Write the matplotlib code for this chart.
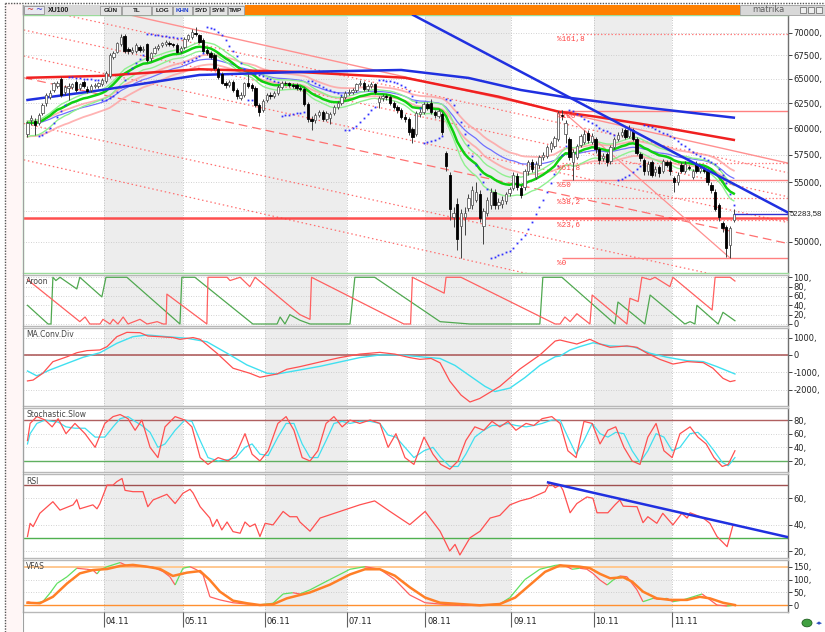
import numpy as np
import pandas as pd
import matplotlib
matplotlib.use('Agg')
import matplotlib.pyplot as plt
from matplotlib.patches import Rectangle, Circle
from matplotlib.collections import LineCollection
from matplotlib.ticker import NullLocator

plt.rcParams['font.family'] = 'DejaVu Sans'

# XU100 daily bars (prices in hundreds of index points)
dates = pd.bdate_range('2011-03-03', periods=190)
opens = [595, 608, 607, 605, 615, 625, 631, 638, 642, 650,
         636, 640, 641, 647, 640, 647, 639, 638, 642, 642,
         644, 648, 653, 673, 679, 687, 696, 682, 679, 680,
         684, 681, 687, 672, 678, 683, 686, 687, 689, 687,
         686, 680, 684, 693, 695, 700, 697, 692, 681, 678,
         675, 660, 655, 646, 643, 647, 638, 630, 633, 646,
         643, 640, 623, 618, 628, 633, 632, 635, 641, 646,
         645, 643, 643, 640, 639, 624, 609, 608, 613, 616,
         609, 610, 615, 621, 625, 631, 635, 636, 638, 644,
         646, 639, 642, 644, 626, 630, 632, 631, 625, 621,
         618, 611, 609, 599, 595, 614, 616, 624, 625, 616,
         612, 614, 577, 557, 520, 531, 513, 520, 528, 530,
         535, 540, 513, 524, 530, 542, 530, 531, 534, 541,
         545, 556, 545, 546, 560, 568, 555, 566, 573, 574,
         580, 583, 590, 613, 595, 590, 568, 573, 584, 587,
         596, 587, 590, 580, 572, 576, 569, 582, 590, 594,
         598, 593, 598, 590, 576, 570, 560, 568, 559, 564,
         560, 568, 568, 554, 550, 566, 560, 564, 555, 567,
         560, 562, 560, 548, 542, 530, 515, 512, 497, 518]
closes = [605, 610, 603, 613, 623, 633, 635, 645, 645, 633,
          641, 642, 644, 638, 644, 642, 637, 642, 643, 645,
          649, 656, 675, 677, 688, 695, 680, 680, 681, 686,
          681, 682, 670, 677, 683, 685, 688, 690, 687, 686,
          679, 683, 693, 697, 701, 698, 690, 680, 678, 673,
          661, 652, 646, 643, 647, 638, 632, 633, 645, 642,
          640, 623, 616, 627, 633, 632, 635, 641, 646, 645,
          643, 642, 640, 639, 624, 609, 607, 613, 616, 609,
          615, 614, 621, 625, 631, 635, 636, 638, 644, 646,
          639, 642, 644, 636, 630, 632, 631, 625, 621, 618,
          611, 609, 597, 592, 615, 616, 624, 620, 616, 613,
          617, 597, 565, 527, 524, 502, 524, 524, 536, 543,
          542, 519, 525, 535, 542, 530, 533, 535, 540, 544,
          557, 546, 539, 560, 568, 562, 567, 573, 575, 582,
          586, 591, 615, 612, 605, 573, 578, 583, 593, 595,
          589, 593, 580, 570, 574, 568, 582, 590, 594, 597,
          592, 599, 590, 577, 572, 560, 567, 557, 562, 558,
          569, 566, 560, 550, 557, 560, 567, 563, 560, 560,
          563, 560, 550, 543, 527, 520, 511, 495, 511, 522.8358]
highs = [607, 613, 610, 615, 625, 635, 638, 647, 648, 652,
         643, 645, 646, 649, 646, 649, 642, 644, 646, 647,
         651, 658, 677, 680, 690, 698, 699, 684, 684, 688,
         686, 685, 689, 679, 685, 687, 690, 692, 691, 689,
         688, 685, 695, 699, 704, 706, 699, 694, 683, 680,
         677, 662, 657, 648, 649, 649, 640, 636, 647, 655,
         645, 642, 625, 629, 635, 636, 637, 643, 648, 648,
         647, 645, 645, 642, 641, 626, 612, 615, 618, 618,
         617, 616, 623, 627, 633, 637, 639, 640, 646, 649,
         648, 644, 647, 646, 632, 634, 634, 633, 627, 623,
         620, 614, 611, 601, 617, 619, 626, 626, 629, 618,
         619, 616, 579, 559, 529, 536, 527, 529, 540, 547,
         550, 543, 528, 537, 545, 544, 536, 538, 542, 546,
         559, 558, 548, 562, 570, 571, 569, 575, 578, 584,
         588, 593, 617, 618, 608, 592, 580, 585, 595, 598,
         598, 596, 592, 582, 577, 578, 584, 592, 597, 600,
         600, 603, 600, 592, 578, 572, 569, 570, 565, 566,
         571, 570, 570, 556, 559, 568, 569, 566, 562, 569,
         565, 564, 562, 550, 544, 532, 517, 514, 513, 527]
lows = [592, 603, 594, 603, 613, 622, 629, 636, 640, 631,
        633, 628, 639, 636, 638, 640, 635, 636, 640, 640,
        642, 646, 651, 671, 677, 685, 678, 676, 676, 678,
        679, 679, 668, 669, 676, 681, 684, 685, 685, 684,
        677, 678, 682, 691, 693, 696, 688, 678, 675, 671,
        659, 650, 644, 640, 641, 636, 629, 628, 631, 640,
        637, 621, 612, 616, 626, 629, 630, 633, 639, 643,
        641, 640, 638, 637, 622, 606, 598, 605, 611, 607,
        607, 604, 613, 619, 623, 629, 633, 634, 636, 642,
        637, 637, 640, 634, 620, 627, 628, 623, 619, 615,
        609, 606, 594, 586, 593, 611, 614, 618, 614, 610,
        610, 594, 560, 518, 512, 493, 487, 505, 525, 527,
        533, 516, 498, 521, 527, 527, 527, 528, 531, 538,
        543, 543, 536, 543, 557, 559, 553, 563, 570, 572,
        578, 581, 588, 608, 586, 570, 552, 571, 582, 585,
        586, 585, 577, 567, 569, 565, 567, 580, 588, 592,
        590, 591, 588, 575, 569, 557, 557, 555, 556, 555,
        558, 564, 557, 542, 548, 558, 558, 561, 553, 558,
        558, 558, 548, 541, 525, 517, 508, 488, 487, 516]
last_close = 52283.58

# long moving averages (bar index, value)
red_ma_i = [0, 20, 46, 73, 101, 126, 142, 152, 170, 189]
red_ma = [65100, 65300, 66000, 65700, 65100, 63150, 61650, 61150, 60100, 58900]
blue_ma_i = [0, 20, 46, 73, 100, 118, 132, 145, 166, 189]
blue_ma = [62810, 63830, 65390, 65710, 65920, 65080, 63830, 63030, 62030, 61050]

# drawn trend lines (bar index, price)
down_tl_i = [103.2, 203.5]
down_tl = [72020, 52400]
upper_tl_i = [27.4, 203.5]
upper_tl = [72020, 56740]
chan_i = [-1, 203.5]
chan_start = [73075, 70305, 67420, 65100, 60480, 57040]
chan_end = [55870, 53750, 51560, 49850, 46200, 43200]
chan_dash = [False, False, False, True, False, False]
support = 51940

# fibonacci retracement, Sep high -> Nov low
fib_i = [143, 188]
fib_hi, fib_lo = 61740, 48700
fib_r = [1.618, 1.0, 0.618, 0.5, 0.382, 0.236, 0.0]
fib_lab = ['%161,8', '%100', '%61,8', '%50', '%38,2', '%23,6', '%0']
fib_solid = [False, True, False, True, False, False, True]

# Aroon
ar_up_i = [0, 5.5, 6.3, 6.8, 7.6, 8.7, 13.2, 14, 19.9, 21, 26.6, 40.8, 41.3, 44.8, 60.3, 66.8, 67.6, 68.9, 70.2, 72.9,
           75.6, 86.3, 87.6, 92.9, 110.4, 118.4, 137.1, 137.9, 143, 157.2, 158, 165.2, 166.6, 175.9, 177.3, 178.6,
           179.1, 184.8, 186.1, 189.3]
ar_up = [40, 0, 0, 100, 93, 100, 75, 100, 58, 100, 100, 0, 100, 100, 0, 0, 15, 0, 20, 8,
         0, 0, 100, 100, 5, 0, 0, 100, 100, 0, 47, 0, 62, 0, 5, 0, 40, 0, 25, 7]
ar_dn_i = [0, 14, 15.4, 16.7, 19.4, 20.2, 22.1, 22.9, 24.2, 25.6, 26.9, 30.1, 32, 34.7, 36.3, 37.1, 37.3, 48, 48.3,
           53.4, 54.2, 56.9, 59.5, 60.9, 72.9, 75.6, 76, 100.7, 102.5, 103, 111.5, 112, 116, 141.2, 142.5, 143.8,
           145.2, 147, 150.5, 151.1, 160.4, 161.2, 163.4, 164.4, 166.6, 167.9, 171.9, 172.7, 183.2, 184, 188, 189.3]
ar_dn = [95, 5, 15, 0, 0, 10, 0, 10, 0, 15, 0, 10, 0, 5, 0, 0, 64, 0, 100,
         100, 93, 100, 80, 100, 20, 10, 100, 0, 0, 100, 66, 100, 100, 0, 0, 15,
         5, 22, 0, 62, 0, 55, 48, 100, 95, 100, 80, 100, 30, 100, 100, 92]

# MACD
macd_i = [0, 1.5, 4.1, 6.8, 10.6, 13.2, 15.9, 19.4, 21.3, 23.9, 26.6, 30.1, 32.2, 35.5, 38.9, 40.8, 44.3, 46.2,
          50.7, 55, 59.5, 62.2, 64.1, 66.8, 69.4, 72.9, 78.3, 83.6, 88.9, 94.3, 98.3, 102.3, 105, 108, 110.4, 113,
          116, 118.4, 121, 126.4, 131.8, 137.1, 141.2, 142.5, 144.4, 147, 150.5, 153.2, 155.9, 160.4, 163.1, 165.8,
          169.2, 172.7, 176.5, 180.8, 183.4, 186.1, 188, 189.3]
macd = [-1490, -1440, -1050, -385, -100, 130, 250, 290, 480, 1050, 1300, 1280, 1090, 1050, 1000, 900, 1000, 900,
        100, -760, -1050, -1280, -1200, -1090, -820, -670, -400, -150, 50, 150, 50, -150, -250, -200, -450, -1500,
        -2300, -2700, -2500, -1800, -800, 0, 800, 860, 760, 630, 900, 630, 440, 520, 440, 100,
        -250, -520, -380, -440, -760, -1340, -1530, -1470]
sig_i = [0, 2.5, 6, 10.6, 14.9, 19.4, 23.9, 28.2, 32, 37.3, 42.7, 48, 53.4, 58.7, 64.1, 66.8, 72.9, 78.3, 83.6, 88.9,
         94.3, 99.6, 105, 110.4, 114.4, 118.4, 122.4, 125.1, 129.1, 133.1, 137.1, 141.2, 142.5, 145.2, 147.8, 151.3,
         155.9, 162, 166.6, 171.1, 176.5, 180.8, 184.5, 189.3]
sig = [-920, -1200, -860, -480, -130, 130, 670, 1050, 1150, 1050, 960, 760, 100, -570, -1050, -1090, -860, -650,
       -400, -150, 0, 0, -100, -200, -600, -1200, -1800, -2100, -1900, -1300, -600, -100, -60, 290, 480, 700,
       520, 480, 100, -130, -330, -380, -670, -1090]

# Stochastic slow
st_i = [0, 0.7, 2.5, 4.7, 6.6, 8.2, 10.3, 12.7, 15.4, 18.1, 20.7, 22.9, 24.8, 26.9, 28.8, 30.6, 32.8, 34.9, 36.8,
        39.5, 42.1, 44, 46.2, 48.3, 51, 53.7, 55.8, 58.2, 60.1, 62.2, 64.4, 67, 69.2, 71.3, 73.5, 75.6, 77.7, 79.9,
        82, 84.2, 86.3, 88.9, 91.7, 94.3, 96.5, 98.6, 101, 103.4, 106.1, 108.5, 110.6, 113, 115.2, 117.3, 119.7,
        122.1, 124.3, 126.4, 128.6, 130.7, 133.4, 135.5, 137.7, 140.3, 142.5, 144.6, 146.8, 148.9, 151.1, 153.2,
        155.3, 157.4, 159.6, 161.8, 163.9, 166, 168.2, 170.3, 172.5, 174.6, 177.3, 179.4, 181.6, 183.7, 185.9,
        187.5, 189.3]
st_k = [50, 75, 85, 80, 70, 82, 60, 75, 60, 40, 75, 85, 88, 82, 65, 80, 40, 25, 70, 85,
        80, 70, 25, 15, 25, 20, 30, 60, 30, 20, 35, 75, 85, 65, 25, 20, 35, 75, 85, 70,
        80, 75, 80, 75, 40, 60, 25, 15, 55, 30, 15, 8, 20, 50, 70, 65, 78, 70, 78, 65,
        75, 72, 82, 85, 75, 35, 25, 78, 75, 45, 65, 70, 40, 20, 15, 55, 75, 35, 25, 60,
        70, 55, 45, 25, 12, 15, 35]
st_d = [45, 60, 75, 80, 78, 77, 70, 68, 68, 55, 55, 70, 82, 85, 78, 72, 62, 40, 45, 65,
        80, 78, 50, 25, 20, 22, 25, 40, 45, 30, 28, 55, 75, 75, 45, 25, 25, 50, 75, 78,
        75, 78, 78, 75, 58, 55, 40, 25, 35, 40, 25, 12, 12, 30, 55, 65, 72, 72, 75, 72,
        70, 72, 75, 80, 80, 55, 30, 50, 75, 60, 55, 62, 60, 35, 18, 35, 60, 55, 35, 40,
        60, 62, 50, 35, 18, 13, 25]

# RSI
rsi_i = [0, 0.7, 1.5, 3.3, 6.8, 8.7, 12.2, 13.2, 14, 17.5, 18.6, 19.4, 21.3, 22.9, 23.9, 25.3, 26.1, 28.2, 30.9,
         32.2, 33.6, 37.3, 39.5, 41.6, 43.5, 44.3, 46.2, 48.8, 49.6, 50.7, 52, 53.4, 55, 56.9, 58.2, 59.5, 60.9,
         62.2, 63.6, 65.7, 68.4, 70.2, 72.1, 72.9, 75.6, 78.3, 83.6, 88.9, 92.9, 97, 102.3, 106.4, 110.4, 113,
         114.4, 115.7, 118.4, 121.1, 123.8, 126.4, 129.1, 131.8, 134.5, 138.5, 139.8, 141.2, 142.5, 143.3, 145.2,
         147, 149.7, 151.3, 152.4, 155.3, 157.2, 158.5, 159.4, 163.1, 164.7, 166, 168.4, 170, 172.7, 175.1, 176.5,
         177.3, 179.1, 180.8, 182.6, 184.5, 187.2, 188.8]
rsi = [31, 41, 38.5, 48.6, 57.4, 51, 55, 59, 52, 55, 52, 56, 70, 70, 72.6, 75, 66, 65, 65,
       53.6, 58.7, 63, 56, 63.8, 66.8, 64, 53.6, 45, 38.5, 44, 36, 42, 34.7, 33.5, 42, 38.5, 40.5,
       31, 41, 39.8, 50, 46, 46, 42, 35, 45, 50, 55, 58, 50, 40, 50, 35, 20,
       25, 17, 30, 35, 45, 47, 55, 58, 60, 65, 72, 68, 70, 66, 49,
       56, 61, 60, 49, 49, 55, 58.7, 54, 53.6, 41.5, 46, 41, 48.6, 39.8, 48.6, 45,
       49, 47, 45, 41, 31, 23.3, 39.8]
rsi_tl_i = [139.3, 203.5]
rsi_tl = [72, 30.5]

# VFAS
vf_i = [0, 1.5, 4.1, 6, 7.9, 10.6, 13.2, 15.9, 17.5, 18.6, 19.4, 21.3, 24.8, 26.6, 30.1, 33.6, 36.3, 38.1, 39.5,
        41.6, 43.5, 45.4, 47, 48.8, 51.5, 55, 58.7, 61.4, 64.1, 65.7, 68.4, 71, 72.9, 75.6, 80.9, 86.3, 90.3, 94.3,
        98.3, 102.3, 106.4, 110.4, 115.7, 121.1, 126.4, 129.1, 133.1, 137.1, 141.2, 142.5, 144.4, 145.7, 147.8,
        149.7, 151.3, 153.2, 155.1, 156.7, 158.5, 160.4, 163.1, 164.7, 167.4, 169.2, 171.1, 172.7, 175.4, 178.1,
        180.5, 182.1, 184.5, 187.2, 189.3]
vf = [14, 8, 14, 47, 85, 111, 144, 140, 137, 122, 137, 150, 166, 154, 153, 148, 131, 111, 79,
      144, 150, 137, 118, 33, 21, 10, 5, 1, 5, 8, 44, 49, 44, 60, 100, 140, 150, 140,
      100, 40, 10, 5, 0, 0, 5, 30, 100, 140, 155, 157, 150, 140, 144,
      140, 124, 98, 79, 98, 114, 111, 60, 14, 27, 23, 27, 14, 21, 33,
      44, 27, 1, -3, 1]
vo_i = [0, 3.3, 6.8, 10.6, 14, 17.5, 21.3, 24.8, 28.2, 32, 35.5, 38.9, 42.7, 46.2, 48.8, 51.5, 55, 58.7, 62.2, 65.7,
        69.4, 72.9, 75.6, 80.9, 86.3, 90.3, 94.3, 98.3, 102.3, 106.4, 110.4, 115.7, 121.1, 126.4, 130.5, 134.5,
        138.5, 142.5, 147.8, 150.5, 153.2, 155.9, 159.4, 161.8, 164.7, 168.4, 171.9, 176.5, 179.9, 182.6, 186.1,
        189.3]
vo = [10, 8, 33, 85, 124, 137, 141, 153, 157, 150, 141, 114, 127, 133, 98, 53, 18, 8, 1, 4,
      27, 40, 50, 80, 120, 140, 140, 115, 70, 30, 10, 5, 0, 5, 30, 80,
      130, 155, 150, 144, 122, 105, 109, 92, 53, 27, 21, 21, 33, 27, 10,
      1]

# ---------------------------------------------------------------------------
W, H = 825, 632
fig = plt.figure(figsize=(W / 100, H / 100), dpi=100)
fig.patch.set_facecolor('white')


def box(x0, y0, x1, y1):
    return [x0 / W, 1 - y1 / H, (x1 - x0) / W, (y1 - y0) / H]


def frect(x0, y0, x1, y1, **kw):
    fig.add_artist(Rectangle((x0 / W, 1 - y1 / H), (x1 - x0) / W, (y1 - y0) / H,
                             transform=fig.transFigure, **kw))


def lab(v):
    return '0' if v == 0 else f'{v:g},'


n = len(dates)
x = np.arange(n)
o = np.array(opens) * 100.0
c = np.array(closes) * 100.0
hi = np.array(highs) * 100.0
lo = np.array(lows) * 100.0
xl = (-1.2, 203.5)

month_idx = [k for k in range(1, n) if dates[k].month != dates[k - 1].month]
grey = [(month_idx[j], month_idx[j + 1]) for j in (0, 2, 4, 6)]


def panel(rect, ylim, ticks, labels=None, title=None, edge='#B8B8B8', log=False):
    ax = fig.add_axes(rect)
    ax.set_facecolor('white')
    if log:
        ax.set_yscale('log')
    ax.set_xlim(xl)
    ax.set_ylim(ylim)
    for k0, k1 in grey:
        ax.axvspan(k0 - 0.5, k1 - 0.5, color='#EDEDED', lw=0, zorder=0)
    for k in month_idx:
        ax.axvline(k - 0.5, color='#B4B4B4', lw=0.6, ls=(0, (1, 2)), zorder=0.5)
    for t in ticks:
        ax.axhline(t, color='#C4C4C4', lw=0.6, ls=(0, (1, 2)), zorder=0.5)
    ax.yaxis.tick_right()
    ax.yaxis.set_minor_locator(NullLocator())
    ax.set_yticks(ticks)
    ax.set_yticklabels(labels if labels is not None else [lab(t) for t in ticks])
    ax.tick_params(axis='y', labelsize=6, length=3, pad=1, colors='#222222', width=0.6)
    ax.set_xticks([])
    for s in ax.spines.values():
        s.set_color(edge)
        s.set_linewidth(1.0)
    ax.spines['right'].set_color('#707070')
    if title:
        ax.text(0.004, 0.97, title, transform=ax.transAxes, fontsize=5.5, va='top',
                color='#444444', zorder=10)
    return ax


# ---------------- price panel ----------------
pt = [50000, 52500, 55000, 57500, 60000, 62500, 65000, 67500, 70000]
pl = [lab(t) if t != 52500 else '' for t in pt]
ax = panel(box(23, 15, 788, 273), (47540, 72020), pt, pl, edge='#9ADB9A', log=True)

for s0, s1, d in zip(chan_start, chan_end, chan_dash):
    ax.plot(chan_i, [s0, s1], color='#FF7070', lw=0.9,
            ls=(0, (7, 4)) if d else (0, (1.2, 2.2)), zorder=1)
ax.plot(upper_tl_i, upper_tl, color='#FF9090', lw=1.0, zorder=1)
ax.axhline(support, color='#FF3030', lw=1.8, alpha=0.85, zorder=1.2)

for r, t, solid in zip(fib_r, fib_lab, fib_solid):
    lvl = fib_lo + r * (fib_hi - fib_lo)
    ax.hlines(lvl, fib_i[0], xl[1], color='#FF8080', lw=1.0 if solid else 0.9,
              ls='-' if solid else (0, (1.2, 1.6)), zorder=1.3)
    ax.text(fib_i[0] - 1.2, lvl * 0.997, t, color='#FF4040', fontsize=5.5, va='top',
            family='Liberation Mono', zorder=6)
ax.plot(fib_i, [fib_hi, fib_lo], color='#FF9090', lw=0.9, zorder=1.3)

cs = pd.Series(c)
ax.plot(x, pd.Series(hi).ewm(span=40, adjust=False).mean(), color='#FFA0A0', lw=1.3, alpha=0.8, zorder=2)
ax.plot(x, pd.Series(lo).ewm(span=40, adjust=False).mean(), color='#FFA0A0', lw=1.3, alpha=0.8, zorder=2)
ax.plot(x, cs.ewm(span=40, adjust=False).mean(), color='#7070FF', lw=0.9, zorder=2.1)
ax.plot(x, pd.Series(hi).ewm(span=20, adjust=False).mean(), color='#90F090', lw=1.0, zorder=2.2)
ax.plot(x, pd.Series(lo).ewm(span=20, adjust=False).mean(), color='#90F090', lw=1.0, zorder=2.2)
ax.plot(x, cs.ewm(span=20, adjust=False).mean(), color='#10D010', lw=1.8, zorder=2.3)
ax.plot(red_ma_i, red_ma, color='#F02020', lw=1.8, zorder=2.4)
ax.plot(blue_ma_i, blue_ma, color='#2030E0', lw=1.8, zorder=2.4)

# candles
up = c >= o
ax.vlines(x, lo, hi, color='#404040', lw=0.7, zorder=3)
ax.bar(x[up], (c - o)[up], bottom=o[up], width=0.62, color='white', edgecolor='#606060', lw=0.6, zorder=3.1)
ax.bar(x[~up], (o - c)[~up], bottom=c[~up], width=0.62, color='black', edgecolor='black', lw=0.6, zorder=3.1)


# parabolic SAR
def psar(h, l, step=0.02, cap=0.2):
    out = np.zeros(len(h))
    bull, af, ep = True, step, h[0]
    out[0] = l[0]
    for t in range(1, len(h)):
        s = out[t - 1] + af * (ep - out[t - 1])
        if bull:
            s = min(s, l[t - 1], l[max(t - 2, 0)])
            if l[t] < s:
                bull, s, ep, af = False, ep, l[t], step
            elif h[t] > ep:
                ep, af = h[t], min(af + step, cap)
        else:
            s = max(s, h[t - 1], h[max(t - 2, 0)])
            if h[t] > s:
                bull, s, ep, af = True, ep, h[t], step
            elif l[t] < ep:
                ep, af = l[t], min(af + step, cap)
        out[t] = s
    return out


sar = psar(hi, lo)
ax.plot(x[3:], sar[3:], ls='none', marker='s', ms=1.3, color='#3030FF', mew=0, zorder=3.5)
ax.plot(down_tl_i, down_tl, color='#2030E0', lw=1.8, zorder=4)
ax.hlines(last_close, n - 1, xl[1], color='#3030D0', lw=1.0, zorder=4)
ax.text(1.002, last_close, '52283,58', transform=ax.get_yaxis_transform(), fontsize=5.6,
        va='center', ha='left', color='#222222', family='Liberation Sans')

# ---------------- Aroon ----------------
ax = panel(box(23, 275, 788, 326), (-4.3, 104.9), [0, 20, 40, 60, 80, 100], title='Aroon')
ax.plot(ar_up_i, ar_up, color='#50A850', lw=0.9, zorder=3)
ax.plot(ar_dn_i, ar_dn, color='#FF6060', lw=0.9, zorder=3)

# ---------------- MACD ----------------
ax = panel(box(23, 328, 788, 406), (-2930, 1550), [-2000, -1000, 0, 1000], title='MA.Conv.Div')
ax.axhline(0, color='#B06060', lw=1.2, zorder=1)
ax.plot(sig_i, sig, color='#40E0F0', lw=1.0, zorder=3)
ax.plot(macd_i, macd, color='#FF5050', lw=0.9, zorder=3)

# ---------------- Stochastic ----------------
ax = panel(box(23, 408, 788, 472), (3.9, 97.6), [20, 40, 60, 80], title='Stochastic.Slow')
ax.axhline(80, color='#B06060', lw=1.0, zorder=1)
ax.axhline(20, color='#60B060', lw=1.0, zorder=1)
ax.plot(st_i, st_d, color='#40E0F0', lw=0.9, zorder=3)
ax.plot(st_i, st_k, color='#FF5050', lw=0.9, zorder=3)

# ---------------- RSI ----------------
ax = panel(box(23, 474, 788, 558), (14.7, 78.4), [20, 40, 60], title='RSI')
ax.axhline(70, color='#A05050', lw=1.0, zorder=1)
ax.axhline(30, color='#50B050', lw=1.0, zorder=1)
ax.plot(rsi_i, rsi, color='#FF5050', lw=0.9, zorder=3)
ax.plot(rsi_tl_i, rsi_tl, color='#2030E0', lw=1.8, zorder=4)

# ---------------- VFAS ----------------
ax = panel(box(23, 560, 788, 612), (-26, 176), [0, 50, 100, 150], title='VFAS')
ax.axhline(150, color='#FFC890', lw=1.4, zorder=1)
ax.axhline(0, color='#FF9030', lw=1.0, zorder=1)
pts = np.column_stack([vf_i, vf])
segs = np.stack([pts[:-1], pts[1:]], axis=1)
cols = ['#60E060' if b > a else '#FF6060' for a, b in zip(vf[:-1], vf[1:])]
ax.add_collection(LineCollection(segs, colors=cols, lw=0.9, zorder=3))
ax.plot(vo_i, vo, color='#FF7F27', lw=1.8, zorder=3.5)

# ---------------- date strip ----------------
ax = fig.add_axes(box(23, 612, 788, 632))
ax.set_xlim(xl)
ax.set_ylim(0, 1)
ax.axis('off')
for k in month_idx:
    ax.vlines(k - 0.5, 0.25, 1, color='#606060', lw=0.8)
    ax.text(k, 0.5, dates[k].strftime('%m.%y'), fontsize=6, va='center', ha='left', color='#222222')

# ---------------- window chrome ----------------
frect(5, 3, 22, 632, color='#FFF6F6', lw=0)
fig.add_artist(plt.Line2D([5 / W, 5 / W], [0, 1 - 3 / H], color='#555555', lw=1.0, ls=(0, (1, 1))))
fig.add_artist(plt.Line2D([5 / W, 1], [1 - 3 / H, 1 - 3 / H], color='#555555', lw=1.0, ls=(0, (1, 1))))
fig.add_artist(plt.Line2D([22.5 / W, 22.5 / W], [0, 1 - 5 / H], color='#A0A0A0', lw=0.8))
frect(22, 5, 245, 15, color='#D8D8D8', lw=0)
frect(24, 6, 44, 14, facecolor='#E8E8F0', edgecolor='#808080', lw=0.5)
fig.text(30 / W, 1 - 10 / H, '~', fontsize=6, color='#D03030', va='center', ha='center')
fig.text(39 / W, 1 - 10 / H, '~', fontsize=6, color='#3030D0', va='center', ha='center')
fig.text(48 / W, 1 - 10 / H, 'XU100', fontsize=5, weight='bold', color='#202020', va='center',
         family='Liberation Sans')
edges = [100, 122, 152, 173, 193, 210, 228, 245]
for j, name in enumerate(['GÜN', 'TL', 'LOG', 'KHN', 'SYD', 'SYM', 'TMP']):
    frect(edges[j], 5.5, edges[j + 1] - 1, 14.5, facecolor='#E4E4E4', edgecolor='#8C8C8C', lw=0.5)
    fig.text((edges[j] + edges[j + 1] - 1) / 2 / W, 1 - 10 / H, name, fontsize=4.6, weight='bold',
             color='#2040D0' if name == 'KHN' else '#202020', va='center', ha='center',
             family='Liberation Sans')
frect(245, 5, 740, 15, color='#FF8000', lw=0)
frect(740, 5, 825, 15, facecolor='#D8D8D8', edgecolor='#909090', lw=0.5)
fig.text(768 / W, 1 - 10 / H, 'matrika', fontsize=6, color='#606060', va='center', ha='center')
for xb in (800, 808, 816):
    frect(xb, 7, xb + 6, 13, facecolor='#EEEEEE', edgecolor='#606060', lw=0.5)
fig.add_artist(Circle((807 / W, 1 - 623 / H), 5 / W, transform=fig.transFigure,
                      facecolor='#40A040', edgecolor='#206020', lw=0.6))
fig.text(819 / W, 1 - 623 / H, '◂▸', fontsize=5, color='#3050C0', va='center', ha='center')

fig.savefig('out.png', dpi=100, facecolor='white')
